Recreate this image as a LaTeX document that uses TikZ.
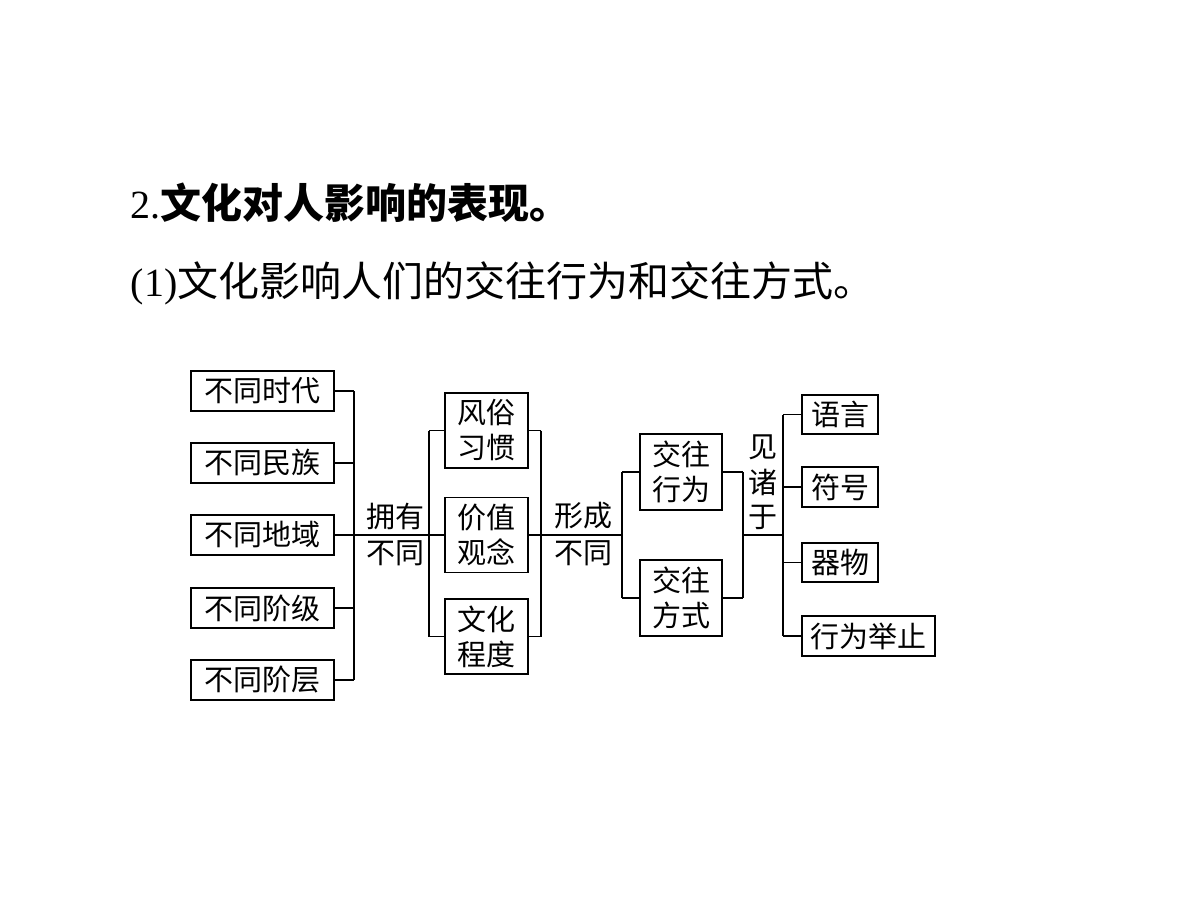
\documentclass[tikz,border=0pt]{standalone}
\usepackage{fontspec}
\setmainfont{Liberation Serif}
\newfontfamily\cjk{Noto Sans CJK SC}
\begin{document}
\begin{tikzpicture}[x=1pt,y=-1pt,
  line width=1.8pt,
  bx/.style={draw,inner sep=0pt,font=\cjk\fontsize{29}{35}\selectfont,align=center},
  lbl/.style={inner sep=0pt,font=\cjk\fontsize{29}{35}\selectfont}]
\useasboundingbox (0,0) rectangle (1200,911);
% titles
\node[anchor=base west,inner sep=0pt] (t1) at (130,218) {\fontsize{40}{40}\selectfont 2.{\cjk\bfseries\fontsize{41}{41}\selectfont 文化对人影响的表现。}};
\node[anchor=base west,inner sep=0pt] (t2) at (130,296) {\fontsize{40}{40}\selectfont (1){\cjk\fontsize{41}{41}\selectfont 文化影响人们的交往行为和交往方式。}};
% left column
\node[bx,minimum width=143,minimum height=40] (a1) at (262.5,391) {不同时代};
\node[bx,minimum width=143,minimum height=40] (a2) at (262.5,463) {不同民族};
\node[bx,minimum width=143,minimum height=40] (a3) at (262.5,535) {不同地域};
\node[bx,minimum width=143,minimum height=40] (a4) at (262.5,608) {不同阶级};
\node[bx,minimum width=143,minimum height=40] (a5) at (262.5,680) {不同阶层};
% middle column
\node[bx,minimum width=83,minimum height=75] (b1) at (486.5,430.5) {风俗\\习惯};
\node[bx,minimum width=83,minimum height=75] (b2) at (486.5,535) {价值\\观念};
\node[bx,minimum width=83,minimum height=75] (b3) at (486.5,636.5) {文化\\程度};
% interaction boxes
\node[bx,minimum width=82,minimum height=76] (c1) at (681,472) {交往\\行为};
\node[bx,minimum width=82,minimum height=76] (c2) at (681,598) {交往\\方式};
% right column
\node[bx,minimum width=76,minimum height=39] (d1) at (840,414.5) {语言};
\node[bx,minimum width=76,minimum height=40] (d2) at (840,487) {符号};
\node[bx,minimum width=76,minimum height=39] (d3) at (840,562.5) {器物};
\node[bx,minimum width=133,minimum height=40] (d4) at (868.5,636) {行为举止};
% labels
\node[lbl] (l1) at (395,516) {拥有};
\node[lbl] (l2) at (395,553) {不同};
\node[lbl] (l3) at (583,516) {形成};
\node[lbl] (l4) at (583,553) {不同};
\node[lbl] (l5) at (763,447) {见};
\node[lbl] (l6) at (763,482) {诸};
\node[lbl] (l7) at (763,517) {于};
% junction coordinates
\coordinate (ja) at (354,0);
\coordinate (jb) at (429,0);
\coordinate (jc) at (541,0);
\coordinate (jd) at (622,0);
\coordinate (je) at (743,0);
\coordinate (jf) at (783,0);
% left bracket
\foreach \n in {a1,a2,a3,a4,a5} \draw (\n.east) -- (\n.east -| ja);
\draw (a1.east -| ja) -- (a5.east -| ja);
\draw (a3.east -| ja) -- (b2.west);
% middle brackets
\foreach \n in {b1,b2,b3} {\draw (\n.west) -- (\n.west -| jb); \draw (\n.east) -- (\n.east -| jc);}
\draw (b1.west -| jb) -- (b3.west -| jb);
\draw (b1.east -| jc) -- (b3.east -| jc);
\draw (b2.east) -- (b2.east -| jd);
% interaction brackets
\foreach \n in {c1,c2} {\draw (\n.west) -- (\n.west -| jd); \draw (\n.east) -- (\n.east -| je);}
\draw (c1.west -| jd) -- (c2.west -| jd);
\draw (c1.east -| je) -- (c2.east -| je);
\draw (b2.east -| je) -- (b2.east -| jf);
% right bracket
\foreach \n in {d1,d2,d3,d4} \draw (\n.west) -- (\n.west -| jf);
\draw (d1.west -| jf) -- (d4.west -| jf);
\end{tikzpicture}
\end{document}
